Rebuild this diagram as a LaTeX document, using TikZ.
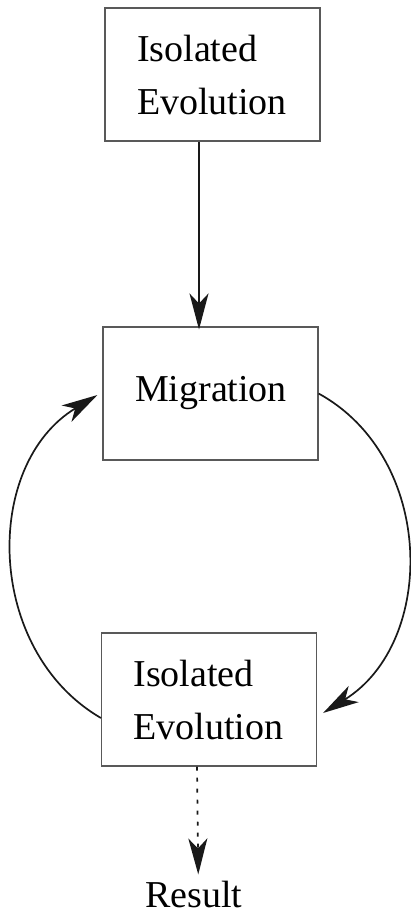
\documentclass[tikz,border=0pt]{standalone}
\usepackage{fontspec}
\setmainfont{Liberation Serif}
\usetikzlibrary{arrows.meta}
\begin{document}
\begin{tikzpicture}[x=1pt,y=-1pt,
  stagebox/.style={draw=black!65, line width=1.1pt, minimum width=215pt,
    minimum height=133pt, inner xsep=32pt, text width=151pt, align=left,
    font=\fontsize{38}{53}\selectfont},
  flow/.style={draw=black!90, line width=1.7pt,
    -{Stealth[length=36pt,width=19pt,inset=10pt]}},
  dashflow/.style={flow, dash pattern=on 4pt off 7pt}
]
\useasboundingbox (0,0) rectangle (411,914);

% the three stages
\node[stagebox] (top) at (212.5,74.5)  {Isolated\\Evolution};
\node[stagebox] (mig) at (210.5,393.5) {Migration};
\node[stagebox] (bot) at (209,699.5)   {Isolated\\Evolution};
\node[anchor=base west, inner sep=0pt, font=\fontsize{38}{53}\selectfont]
  (res) at (145,907) {Result};

% straight connectors
\draw[flow] ([xshift=-13.5pt]top.south) -- ([xshift=-11.5pt, yshift=-3pt]mig.north);
\draw[dashflow] ([xshift=-12pt]bot.south) -- ([xshift=4.5pt, yshift=6pt]res.north);

% the migration loop
\draw[flow] (mig.east) .. controls (435.5,457.6) and (437,642.4)
  .. ([xshift=6pt, yshift=-13.5pt]bot.east);
\draw[flow] ([yshift=-18.5pt]bot.west) .. controls (-15,650.5) and (-17.7,464.5)
  .. ([xshift=-5pt, yshift=-1.5pt]mig.west);
\end{tikzpicture}
\end{document}
